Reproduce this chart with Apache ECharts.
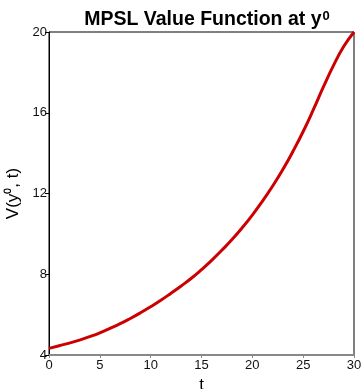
<!DOCTYPE html>
<html><head><meta charset="utf-8">
<script src="https://cdn.jsdelivr.net/npm/echarts@6/dist/echarts.min.js"></script>
<style>html,body{margin:0;padding:0;background:#fff}#c{width:361px;height:389px}</style>
</head><body><div id="c"></div>
<script>
const tValues = [0,1,2,3,4,5,6,7,8,9,10,11,12,13,14,15,16,17,18,19,20,21,22,23,24,25,26,27,28,29,30];
const vValues = [4.33,4.46,4.59,4.74,4.91,5.10,5.32,5.55,5.81,6.09,6.39,6.71,7.06,7.42,7.80,8.23,8.69,9.19,9.72,10.30,10.93,11.62,12.37,13.19,14.09,15.07,16.15,17.29,18.36,19.29,20.0];
const xTicks = [0,5,10,15,20,25,30];
const yTicks = [4,8,12,16,20];
const font = 'Liberation Sans, Arial, Helvetica, sans-serif';
const chart = echarts.init(document.getElementById('c'), null, {renderer:'canvas'});
chart.setOption({
  animation:false,
  title:{
    text:'{m|MPSL Value Function at y}{s|0}',
    left:202, textAlign:'center', top:5,
    textStyle:{rich:{
      m:{fontSize:19.5,fontWeight:'bold',fontFamily:font,color:'#000'},
      s:{fontSize:13,fontWeight:'bold',fontFamily:font,color:'#000',verticalAlign:'top',padding:[0,0,5,1]}
    }}
  },
  grid:{left:49,right:7,top:32,bottom:34,show:true,borderColor:'#000',borderWidth:1,backgroundColor:'transparent',outerBoundsMode:'none',containLabel:false},
  xAxis:{
    type:'value',min:xTicks[0],max:xTicks[xTicks.length-1],interval:5,
    name:'t',nameLocation:'middle',nameGap:21,
    nameTextStyle:{fontSize:17,fontFamily:font,color:'#000'},
    axisLine:{lineStyle:{color:'#888',width:2}},
    axisTick:{show:true,length:3,lineStyle:{color:'#888'}},
    axisLabel:{fontSize:13,fontFamily:font,color:'#111',margin:4},
    splitLine:{show:false}
  },
  yAxis:{
    type:'value',min:yTicks[0],max:yTicks[yTicks.length-1],interval:4,
    name:'V(y⁰, t)',nameLocation:'middle',nameGap:27,
    nameTextStyle:{fontSize:17,fontFamily:font,color:'#000'},
    axisLine:{show:true,lineStyle:{color:'#000',width:1}},
    axisTick:{show:true,length:4,lineStyle:{color:'#000'}},
    axisLabel:{fontSize:13,fontFamily:font,color:'#111',margin:2},
    splitLine:{show:false}
  },
  series:[{
    type:'line',smooth:true,showSymbol:false,
    data:tValues.map((t,i)=>[t,vValues[i]]),
    lineStyle:{color:'#cc0000',width:3},
    clip:false
  }]
});
</script></body></html>
